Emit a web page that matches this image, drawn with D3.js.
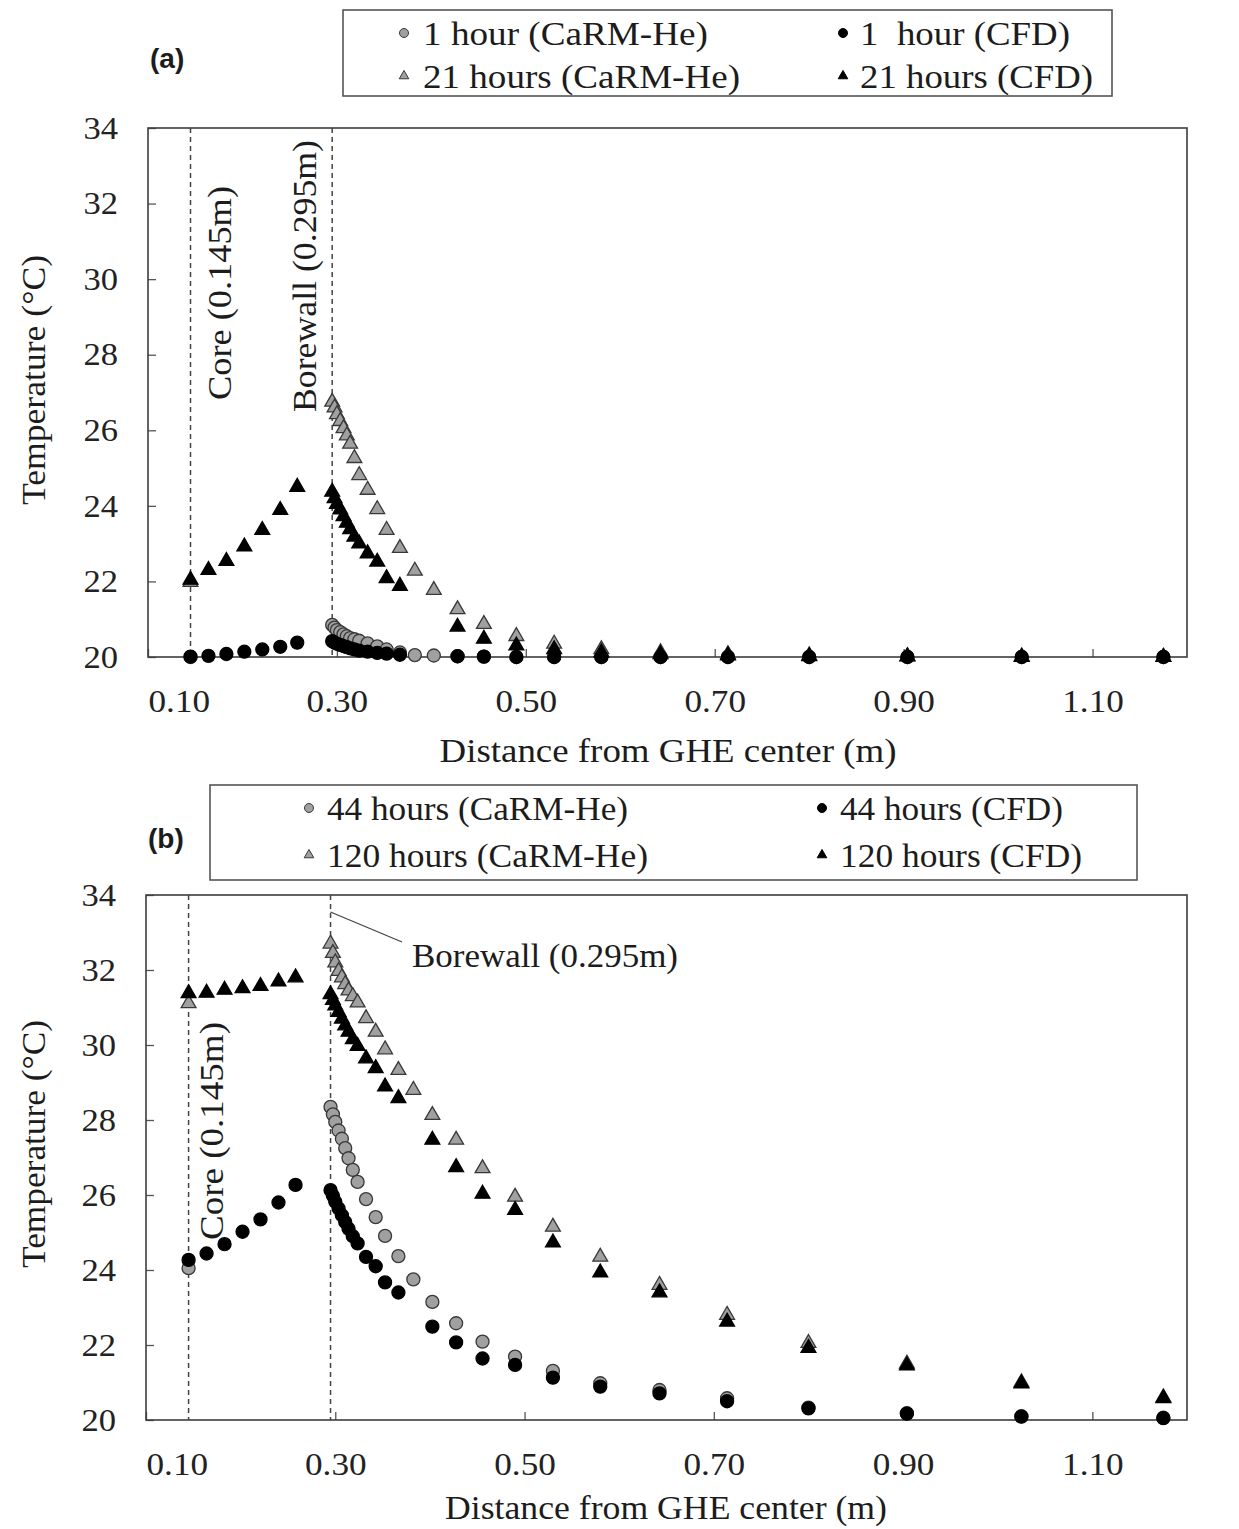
<!DOCTYPE html>
<meta charset="utf-8">
<style>
body { margin: 0; background: #fff; }
text { font-family: "Liberation Serif", "Times New Roman", serif; fill: #1c1c1c; }
.tick line { stroke: #555; stroke-width: 1.3px; }
.domain { display: none; }
</style>
<body>
<svg id="chart" width="1239" height="1529"></svg>

<script src="https://d3js.org/d3.v7.min.js"></script>
<script>

// distance from GHE center (m) - model grid (core point + borewall outwards)
var xModel = [0.145, 0.295, 0.2975, 0.300, 0.3035, 0.307, 0.3105, 0.314, 0.3185, 0.3236, 0.3325, 0.3427, 0.3526, 0.3667,
              0.3825, 0.4026, 0.4277, 0.4556, 0.49, 0.53, 0.58, 0.6426, 0.714, 0.80, 0.904, 1.025, 1.175];
// CFD grid, panel (a)
var xCfdA = [0.145, 0.164, 0.183, 0.202, 0.221, 0.240, 0.258,
             0.295, 0.2975, 0.300, 0.3035, 0.307, 0.3105, 0.314, 0.3185, 0.3236, 0.3325, 0.3427, 0.3526, 0.3667,
             0.4277, 0.4556, 0.49, 0.53, 0.58, 0.6426, 0.714, 0.80, 0.904, 1.025, 1.175];
// CFD grid, panel (b)
var xCfdB = [0.145, 0.164, 0.183, 0.202, 0.221, 0.240, 0.258,
             0.295, 0.2975, 0.300, 0.3035, 0.307, 0.3105, 0.314, 0.3185, 0.3236, 0.3325, 0.3427, 0.3526, 0.3667,
             0.4026, 0.4277, 0.4556, 0.49, 0.53, 0.58, 0.6426, 0.714, 0.80, 0.904, 1.025, 1.175];

// temperatures (°C)
var t1Model = [20.0, 20.85, 20.78, 20.71, 20.66, 20.6, 20.55, 20.5, 20.47, 20.43, 20.36, 20.28, 20.2, 20.12,
               20.05, 20.04, 20.02, 20.01, 20.0, 20.0, 20.0, 20.0, 20.0, 20.0, 20.0, 20.0, 20.0];
var t1Cfd = [20.01, 20.03, 20.08, 20.14, 20.2, 20.27, 20.38,
             20.42, 20.38, 20.35, 20.32, 20.29, 20.26, 20.23, 20.2, 20.17, 20.14, 20.11, 20.09, 20.06,
             20.02, 20.01, 20.0, 20.0, 20.0, 20.0, 20.0, 20.0, 20.0, 20.0, 20.0];
var t21Model = [21.98, 26.75, 26.6, 26.42, 26.24, 26.05, 25.86, 25.64, 25.26, 24.81, 24.42, 23.91, 23.36, 22.88,
                22.28, 21.77, 21.26, 20.87, 20.55, 20.35, 20.2, 20.12, 20.07, 20.04, 20.02, 20.01, 20.0];
var t21Cfd = [22.04, 22.3, 22.54, 22.92, 23.36, 23.89, 24.5,
              24.37, 24.2, 24.05, 23.9, 23.72, 23.55, 23.38, 23.18, 23.0, 22.74, 22.52, 22.08, 21.88,
              20.8, 20.48, 20.3, 20.2, 20.12, 20.07, 20.04, 20.02, 20.01, 20.0, 20.0];
var t44Model = [24.05, 28.35, 28.15, 27.95, 27.72, 27.5, 27.25, 26.98, 26.67, 26.35, 25.89, 25.41, 24.91, 24.37,
                23.75, 23.15, 22.58, 22.09, 21.69, 21.31, 20.98, 20.8, 20.58, 20.33, 20.18, 20.1, 20.06];
var t44Cfd = [24.27, 24.44, 24.69, 25.02, 25.35, 25.8, 26.27,
              26.13, 25.98, 25.82, 25.64, 25.46, 25.28, 25.1, 24.9, 24.71, 24.35, 24.1, 23.67, 23.4,
              22.49, 22.07, 21.64, 21.47, 21.13, 20.89, 20.71, 20.5, 20.31, 20.17, 20.09, 20.05];
var t120Model = [31.11, 32.7, 32.45, 32.2, 31.97, 31.8, 31.62, 31.45, 31.3, 31.13, 30.71, 30.35, 29.88, 29.33,
                 28.8, 28.13, 27.47, 26.71, 25.95, 25.15, 24.35, 23.6, 22.8, 22.05, 21.5, 21.0, 20.6];
var t120Cfd = [31.38, 31.39, 31.47, 31.51, 31.57, 31.69, 31.8,
               31.35, 31.2, 31.05, 30.88, 30.7, 30.52, 30.35, 30.15, 29.97, 29.64, 29.38, 28.89, 28.58,
               27.47, 26.74, 26.03, 25.6, 24.73, 23.93, 23.4, 22.62, 21.92, 21.45, 20.97, 20.58];

var xTicks = [0.10, 0.30, 0.50, 0.70, 0.90, 1.10];
var yTicks = [20, 22, 24, 26, 28, 30, 32, 34];
var coreX = 0.145, boreX = 0.295;

var svg = d3.select("#chart");

// force text to a given pixel width (the source figure has wide lettering)
function fit(sel, w) {
  sel.attr("textLength", w).attr("lengthAdjust", "spacingAndGlyphs");
}
function widen(sel, f) {
  sel.each(function() {
    var w = this.getComputedTextLength();
    d3.select(this).attr("textLength", w * f).attr("lengthAdjust", "spacingAndGlyphs");
  });
}

var greyFill = "#a0a0a0", greyStroke = "#383838";

function drawMarks(g, x, y, xs, ts, shape, grey) {
  var pts = d3.zip(xs, ts);
  if (shape == "circle") {
    g.append("g").selectAll("circle")
      .data(pts).enter().append("circle")
        .attr("cx", function(d) { return x(d[0]); })
        .attr("cy", function(d) { return y(d[1]); })
        .attr("r", 6.5)
        .style("fill", grey ? greyFill : "#000")
        .style("stroke", grey ? greyStroke : "#000")
        .style("stroke-width", 1.3);
  } else {
    var tri = d3.symbol().type(d3.symbolTriangle).size(95);
    g.append("g").selectAll("path")
      .data(pts).enter().append("path")
        .attr("d", tri)
        .attr("transform", function(d) { return "translate(" + x(d[0]) + "," + y(d[1]) + ")"; })
        .style("fill", grey ? greyFill : "#000")
        .style("stroke", grey ? greyStroke : "#000")
        .style("stroke-width", 1.3);
  }
}

function legendMark(g, cx, cy, shape, grey) {
  if (shape == "circle") {
    g.append("circle").attr("cx", cx).attr("cy", cy).attr("r", 4.5)
      .style("fill", grey ? greyFill : "#000").style("stroke", grey ? greyStroke : "#000");
  } else {
    g.append("path").attr("d", d3.symbol().type(d3.symbolTriangle).size(40))
      .attr("transform", "translate(" + cx + "," + cy + ")")
      .style("fill", grey ? greyFill : "#000").style("stroke", grey ? greyStroke : "#000");
  }
}

function drawPanel(p) {
  var x = d3.scaleLinear().domain([0.1, 1.2]).range([p.left, p.right]);
  var y = d3.scaleLinear().domain([20, 34]).range([p.bottom, p.top]);
  var g = svg.append("g");

  // axes, ticks pointing inward
  var ya = g.append("g")
      .attr("transform", "translate(" + p.left + ",0)")
      .call(d3.axisLeft(y).tickValues(yTicks).tickSize(-8).tickPadding(30).tickFormat(d3.format("d")));
  ya.selectAll("text").style("font-size", "32px").style("fill", "#222").call(widen, 1.08);

  var xa = g.append("g")
      .attr("transform", "translate(0," + p.bottom + ")")
      .call(d3.axisBottom(x).tickValues(xTicks).tickSize(-8).tickPadding(32).tickFormat(d3.format(".2f")));
  xa.selectAll("text").style("font-size", "32px").style("fill", "#222").call(widen, 1.1);
  // first label sits to the right of the axis start, as in the source
  xa.select(".tick text").attr("text-anchor", "start").attr("x", 0);

  // plot frame
  g.append("rect")
    .attr("x", p.left).attr("y", p.top)
    .attr("width", p.right - p.left).attr("height", p.bottom - p.top)
    .style("fill", "none").style("stroke", "#3c3c3c").style("stroke-width", 1.6);

  // core and borewall dashed lines
  [coreX, boreX].forEach(function(v) {
    g.append("line")
      .attr("x1", x(v)).attr("x2", x(v)).attr("y1", p.top).attr("y2", p.bottom)
      .style("stroke", "#444").style("stroke-width", 1.5).style("stroke-dasharray", "5,4");
  });

  // data (model first, CFD drawn on top)
  p.series.forEach(function(s) {
    drawMarks(g, x, y, s.x, s.t, s.shape, s.grey);
  });

  // axis titles
  g.append("text")
    .attr("x", p.xTitle[0]).attr("y", p.xTitle[1]).attr("dy", "0.35em")
    .attr("text-anchor", "middle").style("font-size", "34px")
    .text("Distance from GHE center (m)").call(fit, p.xTitle[2]);
  g.append("text")
    .attr("transform", "translate(" + p.yTitle[0] + "," + p.yTitle[1] + ") rotate(-90)")
    .attr("dy", "0.35em").attr("text-anchor", "middle").style("font-size", "34px")
    .text("Temperature (\u00B0C)").call(fit, p.yTitle[2]);

  // panel label
  g.append("text")
    .attr("x", p.tag[0]).attr("y", p.tag[1]).attr("dy", "0.35em")
    .style("font-family", "'Liberation Sans', Arial, sans-serif").style("font-weight", "bold")
    .style("font-size", "28px").text(p.tag[2]);

  // legend
  var L = p.legend;
  g.append("rect")
    .attr("x", L.box[0]).attr("y", L.box[1]).attr("width", L.box[2]).attr("height", L.box[3])
    .style("fill", "#fff").style("stroke", "#555").style("stroke-width", 1.6);
  L.items.forEach(function(it) {
    legendMark(g, it.mx, it.y, it.shape, it.grey);
    g.append("text")
      .attr("x", it.tx).attr("y", it.y).attr("dy", "0.35em")
      .style("font-size", "34px").style("white-space", "pre")
      .text(it.label).call(fit, it.w);
  });

  return {g: g, x: x, y: y};
}

// ---------- panel (a) ----------
var A = drawPanel({
  left: 148, right: 1187, top: 128, bottom: 657,
  series: [
    {x: xModel, t: t1Model, shape: "circle", grey: true},
    {x: xModel, t: t21Model, shape: "tri", grey: true},
    {x: xCfdA, t: t1Cfd, shape: "circle", grey: false},
    {x: xCfdA, t: t21Cfd, shape: "tri", grey: false}
  ],
  xTitle: [668, 750, 457],
  yTitle: [33, 380, 250],
  tag: [150, 58, "(a)"],
  legend: {
    box: [343, 10, 769, 86],
    items: [
      {mx: 404, tx: 423, y: 33, shape: "circle", grey: true, label: "1 hour (CaRM-He)", w: 285},
      {mx: 843, tx: 860, y: 33, shape: "circle", grey: false, label: "1  hour (CFD)", w: 210},
      {mx: 404, tx: 423, y: 76, shape: "tri", grey: true, label: "21 hours (CaRM-He)", w: 317},
      {mx: 843, tx: 860, y: 76, shape: "tri", grey: false, label: "21 hours (CFD)", w: 233}
    ]
  }
});

A.g.append("text")
  .attr("transform", "translate(219,293) rotate(-90)")
  .attr("dy", "0.35em").attr("text-anchor", "middle").style("font-size", "33px")
  .text("Core (0.145m)").call(fit, 214);
A.g.append("text")
  .attr("transform", "translate(304,276) rotate(-90)")
  .attr("dy", "0.35em").attr("text-anchor", "middle").style("font-size", "33px")
  .text("Borewall (0.295m)").call(fit, 272);

// ---------- panel (b) ----------
var B = drawPanel({
  left: 146, right: 1187, top: 895, bottom: 1420,
  series: [
    {x: xModel, t: t44Model, shape: "circle", grey: true},
    {x: xModel, t: t120Model, shape: "tri", grey: true},
    {x: xCfdB, t: t44Cfd, shape: "circle", grey: false},
    {x: xCfdB, t: t120Cfd, shape: "tri", grey: false}
  ],
  xTitle: [666, 1507, 442],
  yTitle: [33, 1144, 248],
  tag: [148, 838, "(b)"],
  legend: {
    box: [210, 785, 927, 95],
    items: [
      {mx: 309, tx: 327, y: 808, shape: "circle", grey: true, label: "44 hours (CaRM-He)", w: 301},
      {mx: 822, tx: 840, y: 808, shape: "circle", grey: false, label: "44 hours (CFD)", w: 223},
      {mx: 309, tx: 327, y: 855, shape: "tri", grey: true, label: "120 hours (CaRM-He)", w: 321},
      {mx: 822, tx: 840, y: 855, shape: "tri", grey: false, label: "120 hours (CFD)", w: 242}
    ]
  }
});

B.g.append("text")
  .attr("transform", "translate(211,1131) rotate(-90)")
  .attr("dy", "0.35em").attr("text-anchor", "middle").style("font-size", "33px")
  .text("Core (0.145m)").call(fit, 218);
// borewall callout
B.g.append("line")
  .attr("x1", B.x(boreX)).attr("y1", 912).attr("x2", 402).attr("y2", 942)
  .style("stroke", "#444").style("stroke-width", 1.3);
B.g.append("text")
  .attr("x", 412).attr("y", 955).attr("dy", "0.35em").style("font-size", "33px")
  .text("Borewall (0.295m)").call(fit, 266);

</script>
</body>
